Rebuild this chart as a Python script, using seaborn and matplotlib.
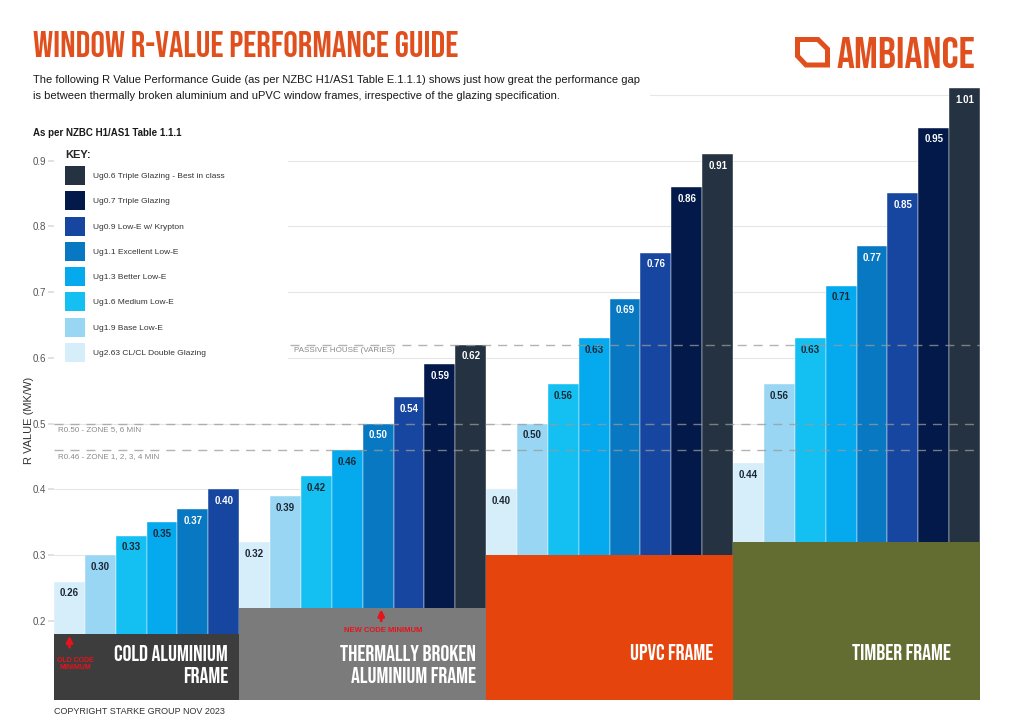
import matplotlib
matplotlib.use("Agg")
import numpy as np
import pandas as pd
import matplotlib.pyplot as plt
import seaborn as sns
from matplotlib import font_manager
from matplotlib.patches import Patch, Polygon, Rectangle

glazing = ["Ug2.63 CL/CL Double Glazing", "Ug1.9 Base Low-E", "Ug1.6 Medium Low-E",
           "Ug1.3 Better Low-E", "Ug1.1 Excellent Low-E", "Ug0.9 Low-E w/ Krypton",
           "Ug0.7 Triple Glazing", "Ug0.6 Triple Glazing - Best in class"]
glazing_colors = ["#d6edfa", "#98d6f4", "#14c0f2", "#04a9ee", "#0878c3", "#1746a0",
                  "#03194a", "#243241"]

frames = ["COLD ALUMINIUM\nFRAME", "THERMALLY BROKEN\nALUMINIUM FRAME", "UPVC FRAME", "TIMBER FRAME"]
frame_r = [0.18, 0.22, 0.30, 0.32]
frame_colors = ["#3d3d3d", "#7b7b7b", "#e5450d", "#636d31"]

cold_r = [0.26, 0.30, 0.33, 0.35, 0.37, 0.40]
thermal_r = [0.32, 0.39, 0.42, 0.46, 0.50, 0.54, 0.59, 0.62]
upvc_r = [0.40, 0.50, 0.56, 0.63, 0.69, 0.76, 0.86, 0.91]
timber_r = [0.44, 0.56, 0.63, 0.71, 0.77, 0.85, 0.95, 1.01]

ref_lines = [0.62, 0.50, 0.46]
ref_labels = ["PASSIVE HOUSE (VARIES)", "R0.50 - ZONE 5, 6 MIN", "R0.46 - ZONE 1, 2, 3, 4 MIN"]
yticks = [0.2, 0.3, 0.4, 0.5, 0.6, 0.7, 0.8, 0.9]

rows = []
pos = 0
for frame, vals in zip(frames, [cold_r, thermal_r, upvc_r, timber_r]):
    for i, v in enumerate(vals):
        rows.append({"pos": pos, "frame": frame, "glazing": glazing[i], "r": v})
        pos += 1
df = pd.DataFrame(rows)


def pick_font(cands):
    names = {f.name for f in font_manager.fontManager.ttflist}
    for c in cands:
        if c in names:
            return c
    return "DejaVu Sans"


sns.set_theme(style="white")
plt.rcParams["font.family"] = ["Liberation Sans", "DejaVu Sans"]
cond = pick_font(["Bebas Neue", "Barlow Condensed", "Liberation Sans Narrow", "DejaVu Sans"])

ORANGE = "#e0501e"
W, H = 1024, 724

fig = plt.figure(figsize=(10.24, 7.24), dpi=100)
ax = fig.add_axes([54 / W, 24 / H, 926 / W, 625 / H])

sns.barplot(data=df, x="pos", y="r", hue="glazing", hue_order=glazing,
            palette=dict(zip(glazing, glazing_colors)), native_scale=True, width=1,
            dodge=False, saturation=1, errorbar=None, legend=False,
            edgecolor="white", linewidth=0.3, ax=ax)

for c in list(ax.containers):
    r, g, b, _ = c.patches[0].get_facecolor()
    txt = "#1c2632" if 0.299 * r + 0.587 * g + 0.114 * b > 0.45 else "white"
    ax.bar_label(c, fmt="%.2f", padding=-12, color=txt, fontsize=7, fontweight="bold")

# frame panels sit over the bottom of the glazing bars
counts = df.groupby("frame", sort=False).size().values
starts = np.concatenate([[0], np.cumsum(counts)[:-1]])
centers = starts + counts / 2 - 0.5
ax.bar(centers, frame_r, width=counts, color=frame_colors, zorder=2.5, linewidth=0)

label_pad = [0.36, 0.33, 0.65, 0.94]
for name, st, n, p in zip(frames, starts, counts, label_pad):
    y = 0.135 if "\n" in name else 0.153
    ax.text(st + n - 0.5 - p, y, name, ha="right", va="center", color="white",
            family=cond, fontsize=16, linespacing=1.4, zorder=4)

ax.set_xlim(-0.5, len(df) - 0.5)
ax.set_ylim(0.08, 1.03)
ax.set_xticks([])
ax.set_xlabel("")
ax.set_yticks(yticks)
ax.set_yticklabels([f"{t:.1f}" for t in yticks])
ax.tick_params(axis="y", left=True, length=4, color="#dddddd", labelsize=7,
               labelcolor="#555555", pad=2)
ax.set_axisbelow(True)
ax.grid(axis="y", color="#e6e6e6", lw=0.8)
ax.axhline(1.0, xmin=(650 - 54) / 926, color="#e6e6e6", lw=0.8, zorder=0.5)
sns.despine(ax=ax, left=True, bottom=True)
ax.set_ylabel("R VALUE (MK/W)", fontsize=8, color="#333333")
ax.yaxis.set_label_coords(-0.022, 0.448)

# white area behind the key
ax.add_patch(Rectangle((0, 0.585), 0.252, 0.45, transform=ax.get_yaxis_transform(),
                       color="white", zorder=0.8))

# reference lines
for v, lab in zip(ref_lines, ref_labels):
    x0 = 0.255 if v > 0.6 else 0
    ax.axhline(v, xmin=x0, color="#9a9a9a", lw=1, ls=(0, (6.5, 5)), alpha=0.75, zorder=3)
    ax.text(x0 + 0.004, v - 0.004, lab, transform=ax.get_yaxis_transform(),
            ha="left", va="top", fontsize=5.8, color="#8a8a8a", zorder=3)

# code minimum arrows
RED = "#e8121b"
old_x = df.loc[0, "pos"]
new_x = df.loc[(df.frame == frames[1]) & (df.r == 0.50), "pos"].iloc[0]
ax.annotate("", xy=(old_x, frame_r[0] + 0.002), xytext=(old_x, frame_r[0] - 0.024),
            arrowprops=dict(arrowstyle="-|>", color=RED, lw=2, mutation_scale=9), zorder=5)
ax.text(old_x + 0.2, 0.135, "OLD CODE\nMINIMUM", ha="center", va="center", color=RED,
        fontsize=5, fontweight="bold", linespacing=1.1, zorder=5)
ax.annotate("", xy=(new_x + 0.1, frame_r[1] + 0.002), xytext=(new_x + 0.1, frame_r[1] - 0.024),
            arrowprops=dict(arrowstyle="-|>", color=RED, lw=2, mutation_scale=9), zorder=5)
ax.text(new_x + 0.15, 0.185, "NEW CODE MINIMUM", ha="center", va="center", color=RED,
        fontsize=5.5, fontweight="bold", zorder=5)

# key
handles = [Patch(facecolor=c, edgecolor="none", label=g)
           for g, c in zip(glazing[::-1], glazing_colors[::-1])]
leg = ax.legend(handles=handles, title="KEY:", loc="upper left",
                bbox_to_anchor=((65 - 54) / 926, (700 - 150) / 625), frameon=False,
                fontsize=6, handlelength=2.4, handleheight=3.13, labelspacing=0.75,
                handletextpad=0.95, borderpad=0, borderaxespad=0, alignment="left",
                title_fontproperties={"weight": "bold", "size": 8})
for t in leg.get_texts():
    t.set_color("#333333")

# header
fig.text(33 / W, 1 - 44 / H, "WINDOW R-VALUE PERFORMANCE GUIDE", color=ORANGE,
         va="center", ha="left", family=cond, fontsize=26)
fig.text(33 / W, 1 - 88 / H,
         "The following R Value Performance Guide (as per NZBC H1/AS1 Table E.1.1.1) shows just how great the performance gap\n"
         "is between thermally broken aluminium and uPVC window frames, irrespective of the glazing specification.",
         fontsize=8, color="#1a1a1a", va="center", ha="left", linespacing=1.75,
         bbox=dict(facecolor="white", edgecolor="none", pad=1))
fig.text(33 / W, 1 - 133 / H, "As per NZBC H1/AS1 Table 1.1.1", fontsize=7, fontweight="bold",
         color="#1a1a1a", va="center")
fig.text(54 / W, 1 - 711 / H, "COPYRIGHT STARKE GROUP NOV 2023", fontsize=6.5, color="#333333",
         va="center")

# logo
pts = [(797.5, 39.5), (818, 39.5), (827.5, 49), (827.5, 65), (806, 65), (797.5, 56)]
fig.patches.append(Polygon([(x / W, 1 - y / H) for x, y in pts], closed=True, fill=False,
                           edgecolor=ORANGE, lw=3.6, joinstyle="miter",
                           transform=fig.transFigure, figure=fig))
fig.text(975 / W, 1 - 53 / H, "AMBIANCE", color=ORANGE, ha="right", va="center",
         family=cond, fontsize=32)

fig.savefig("out.png", dpi=100)
